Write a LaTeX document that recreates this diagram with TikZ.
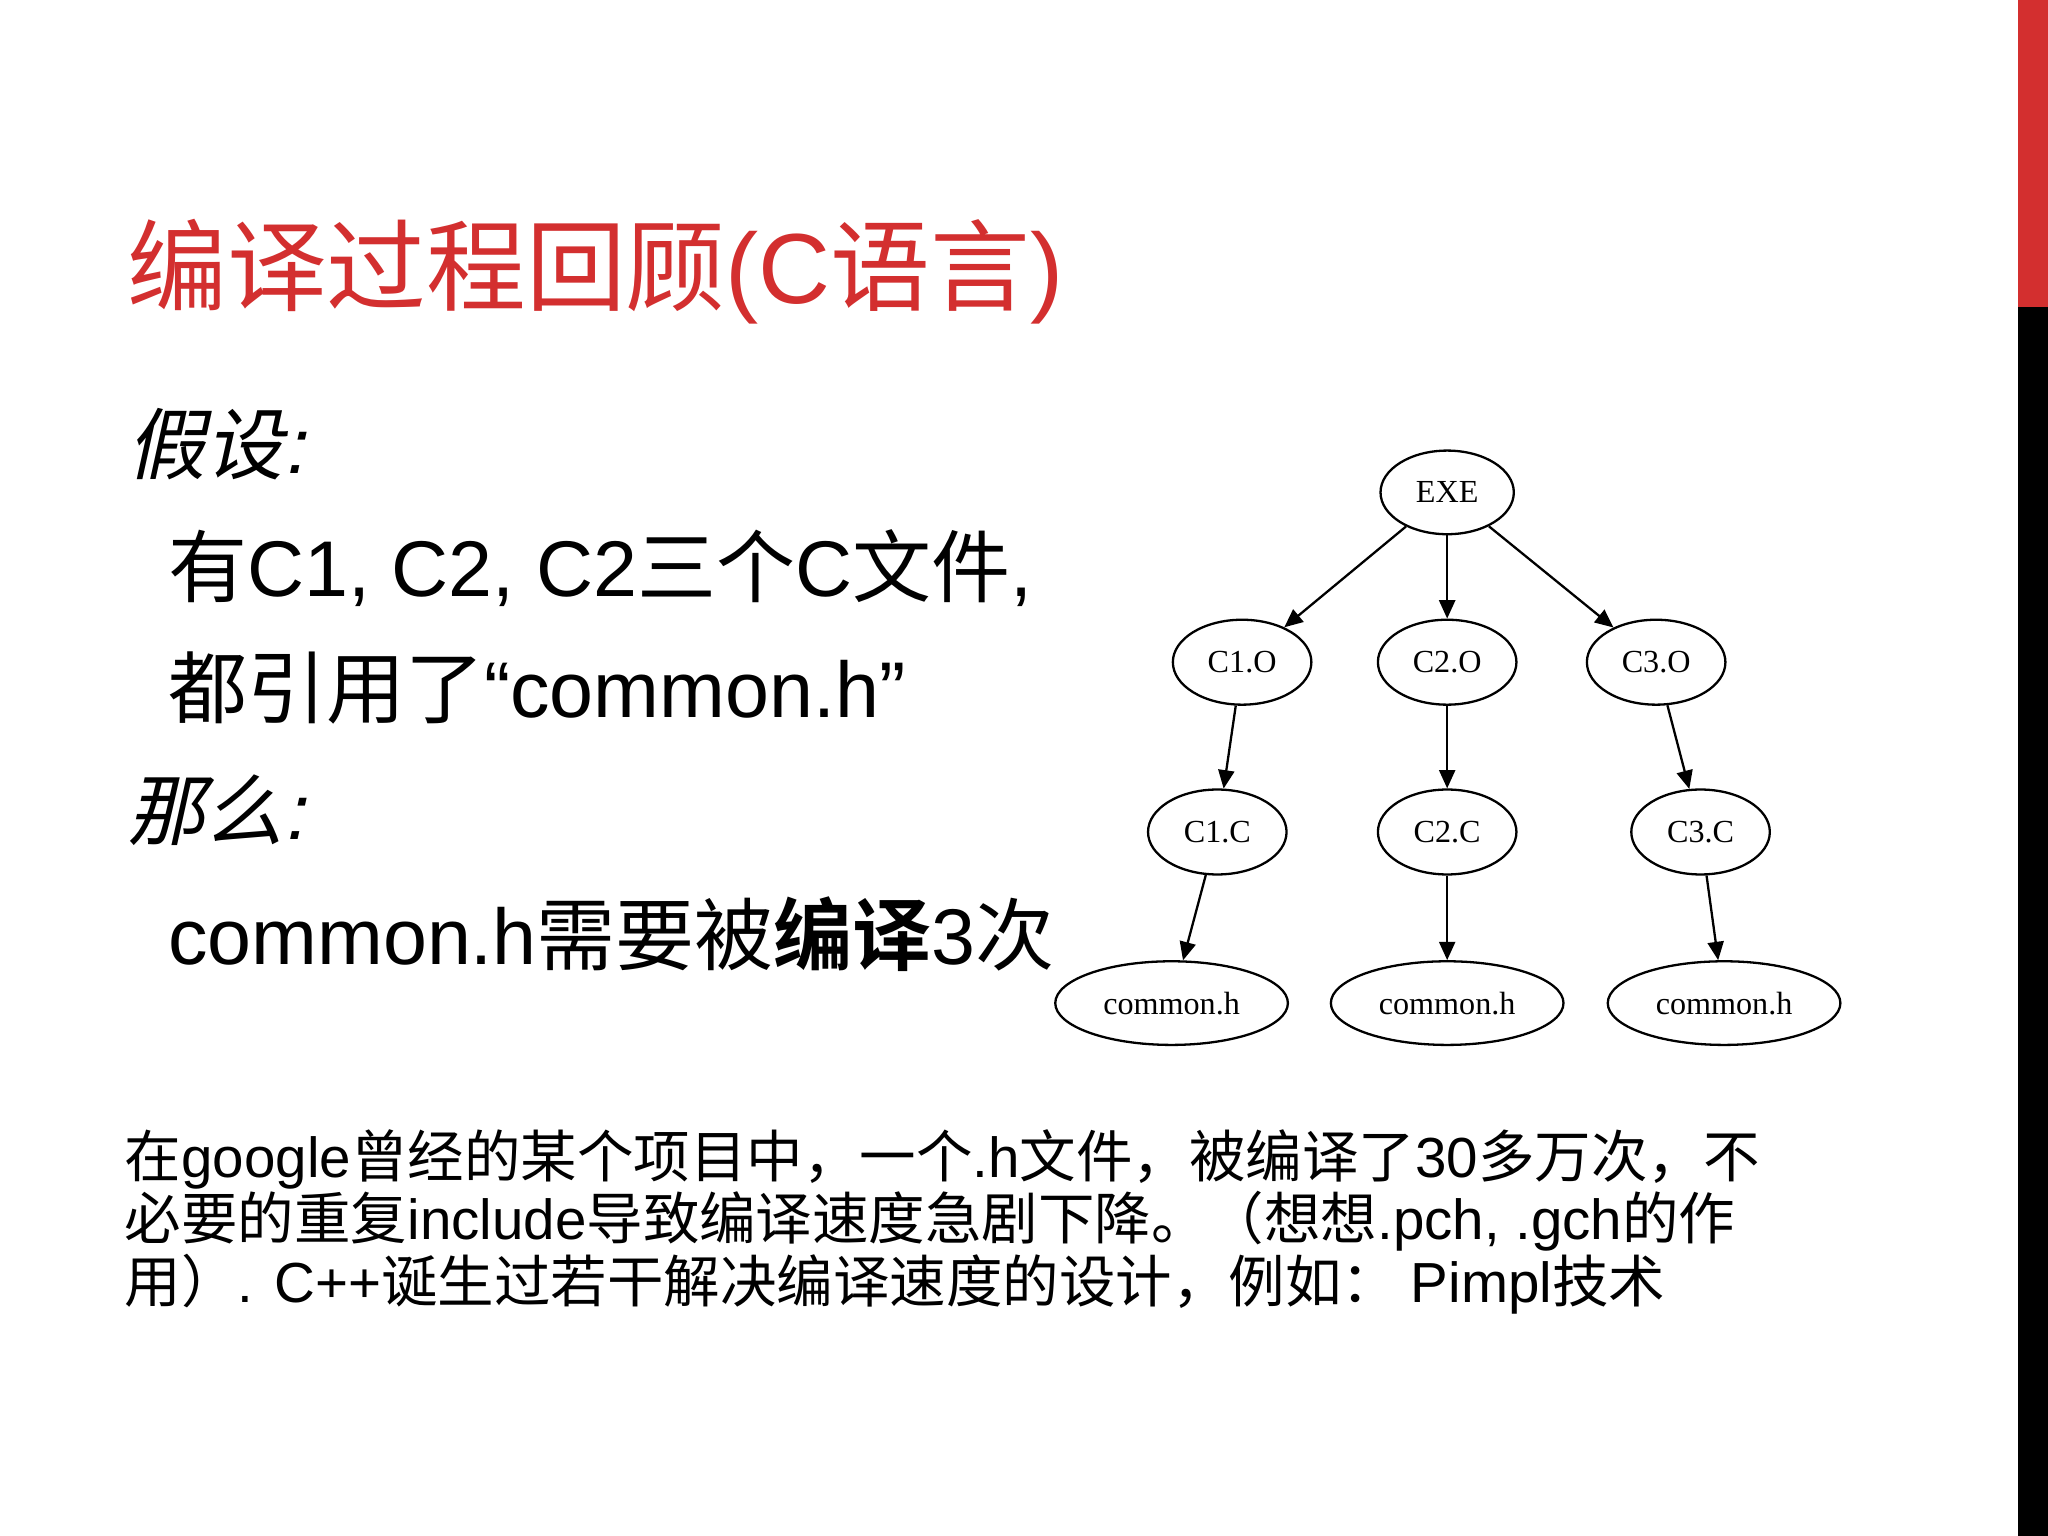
\documentclass[tikz,border=0pt]{standalone}
\usepackage{fontspec}
\setmainfont{Noto Sans CJK SC}
\newfontfamily\cjkit[FakeSlant=0.22]{Noto Sans CJK SC}
\newfontfamily\cjkb[BoldFont={Noto Sans CJK SC Bold}]{Noto Sans CJK SC}
\newfontfamily\latf{Liberation Sans}
\newfontfamily\latit[FakeSlant=0.22]{Liberation Sans}
\newcommand{\lt}[1]{{\latf #1}}
\newfontfamily\gserif{Liberation Serif}
\usetikzlibrary{shapes.geometric,arrows.meta}
\definecolor{tred}{HTML}{D32F2F}
\begin{document}
\begin{tikzpicture}[x=0.01cm,y=-0.01cm,
  gn/.style={ellipse,draw,line width=0.5pt,font=\gserif\fontsize{7}{8}\selectfont,inner sep=0pt},
  onode/.style={gn,minimum width=1.06cm,minimum height=0.65cm},
  hnode/.style={gn,minimum width=1.78cm,minimum height=0.64cm},
  ed/.style={-{Triangle[length=4pt,width=3.5pt]},line width=0.5pt},
  txt/.style={anchor=west,inner sep=0pt}]
\useasboundingbox (0,0) rectangle (1568,1176);
\fill[white] (0,0) rectangle (1568,1176);
\fill[tred] (1545,0) rectangle (1568,235);
\fill[black] (1545,235) rectangle (1568,1176);
\node[txt,text=tred,font=\fontsize{21.7}{24}\selectfont] (title) at (97,208) {编译过程回顾\lt{(C}语言\lt{)}};
\node[txt,font=\cjkit\fontsize{17}{20}\selectfont] (t1) at (97,340) {假设{\latit :}};
\node[txt,font=\fontsize{17.2}{20}\selectfont] (t2) at (128,435) {有\lt{C1, C2, C2}三个\lt{C}文件\lt{,}};
\node[txt,font=\fontsize{17.2}{20}\selectfont] (t3) at (128,527) {都引用了\lt{“common.h”}};
\node[txt,font=\cjkit\fontsize{17}{20}\selectfont] (t4) at (97,620) {那么{\latit :}};
\node[txt,font=\cjkb\fontsize{17.2}{20}\selectfont] (t5) at (128,715) {\lt{common.h}需要被\textbf{编译}\lt{3}次};
\node[anchor=north west,inner sep=0pt,align=left,font=\fontsize{12.3}{13.6}\selectfont] (p) at (95,864)
{在\lt{google}曾经的某个项目中，一个\lt{.h}文件，被编译了\lt{30}多万次，不\\必要的重复\lt{include}导致编译速度急剧下降。（想想\lt{.pch, .gch}的作\\用）\lt{. C++}诞生过若干解决编译速度的设计，例如： \lt{Pimpl}技术};
\node[gn,minimum width=1.02cm,minimum height=0.64cm] (exe) at (1108,377) {EXE};
\node[onode] (o1) at (951,507) {C1.O};
\node[onode] (o2) at (1108,507) {C2.O};
\node[onode] (o3) at (1268,507) {C3.O};
\node[onode] (c1) at (932,637) {C1.C};
\node[onode] (c2) at (1108,637) {C2.C};
\node[onode] (c3) at (1302,637) {C3.C};
\node[hnode] (h1) at (897,768) {common.h};
\node[hnode] (h2) at (1108,768) {common.h};
\node[hnode] (h3) at (1320,768) {common.h};
\draw[ed] (exe) -- (o1); \draw[ed] (exe) -- (o2); \draw[ed] (exe) -- (o3);
\draw[ed] (o1) -- (c1); \draw[ed] (o2) -- (c2); \draw[ed] (o3) -- (c3);
\draw[ed] (c1) -- (h1); \draw[ed] (c2) -- (h2); \draw[ed] (c3) -- (h3);
\end{tikzpicture}
\end{document}
